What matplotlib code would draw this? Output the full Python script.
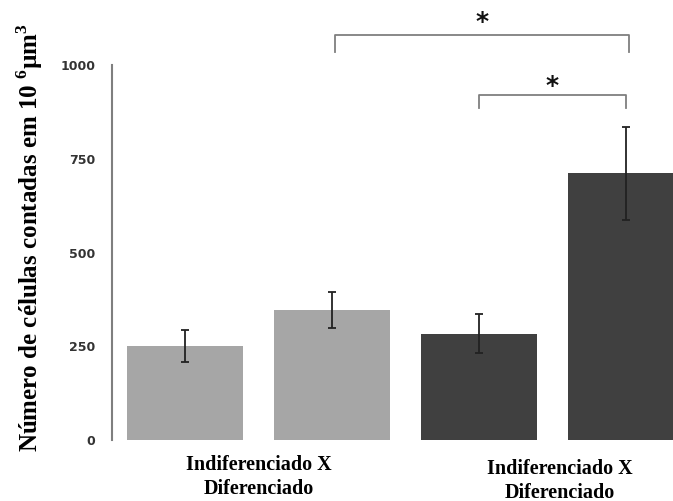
import matplotlib.pyplot as plt
import numpy as np

plt.rcParams['mathtext.fontset'] = 'custom'
plt.rcParams['mathtext.rm'] = 'Liberation Serif:bold'
plt.rcParams['mathtext.bf'] = 'Liberation Serif:bold'

# values
values = [250, 347, 283, 712]
errors = [43, 48, 52, 124]
colors = ['#a6a6a6', '#a6a6a6', '#404040', '#404040']
group_labels = ["Indiferenciado X\nDiferenciado", "Indiferenciado X\nDiferenciado"]
yticks = [0, 250, 500, 750, 1000]

fig = plt.figure(figsize=(6.73, 5.01), dpi=100)
ax = fig.add_axes([112/673, 61/501, 1 - 112/673, 375/501])

x = np.arange(len(values))
ax.bar(x, values, width=0.79, color=colors, zorder=2)
ax.errorbar(x, values, yerr=errors, fmt='none', ecolor='#222222',
            elinewidth=1.3, capsize=3, capthick=1.3, zorder=3)

ax.set_xlim(-0.497, 3.32)
ax.set_ylim(0, 1000)
ax.set_yticks(yticks)
ax.set_yticklabels([str(t) for t in yticks], fontsize=9, fontweight='bold', color='#333333')
ax.tick_params(axis='y', length=0, pad=12)
ax.set_xticks([])
for s in ['top', 'right', 'bottom']:
    ax.spines[s].set_visible(False)
ax.spines['left'].set_color('#7f7f7f')
ax.spines['left'].set_linewidth(1.5)

ax.set_ylabel("Número de células contadas em 10 $^{6}$µm$^{3}$",
              fontsize=18, fontweight='bold', family='Liberation Serif')
ax.yaxis.set_label_coords(-0.12, 0.54)

# group labels under the bars
ax.text(0.5, -40, group_labels[0], ha='center', va='top', fontsize=14.5,
        fontweight='bold', family='Liberation Serif', linespacing=1.3)
ax.text(2.55, -50, group_labels[1], ha='center', va='top', fontsize=14.5,
        fontweight='bold', family='Liberation Serif', linespacing=1.25)

# significance brackets
def bracket(x0, x1, y, drop, star_y):
    ax.plot([x0, x0, x1, x1], [y - drop, y, y, y - drop], color='#7f7f7f',
            lw=1.3, clip_on=False)
    ax.text((x0 + x1) / 2, star_y, '*', ha='center', va='center', fontsize=18,
            fontweight='bold', color='#111111', clip_on=False)

bracket(1.02, 3.02, 1080, 45, 1115)
bracket(2.0, 3.0, 920, 35, 945)

fig.savefig('out.png', dpi=100)
